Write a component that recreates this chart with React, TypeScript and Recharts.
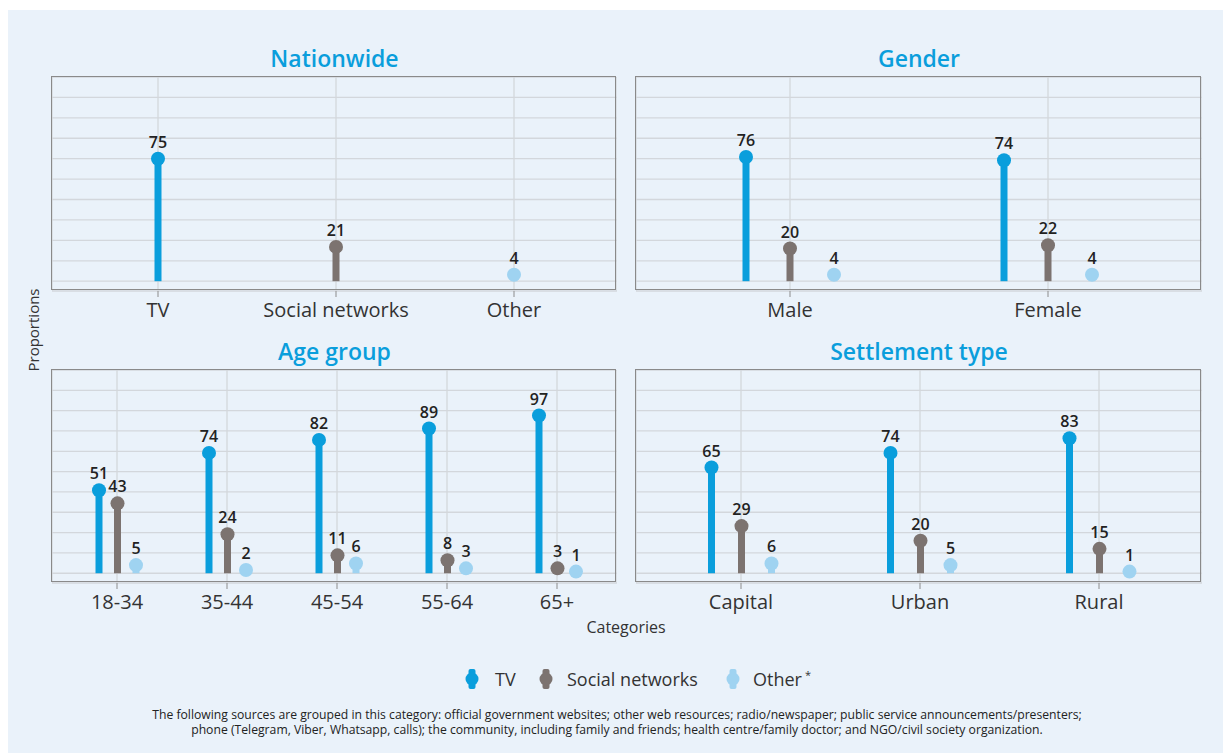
import React from 'react';
import { BarChart, Bar, XAxis, YAxis, CartesianGrid, Cell, LabelList } from 'recharts';

// chart data
const nationCategories = ['TV', 'Social networks', 'Other'];
const nationValues = [75, 21, 4];

const genderCategories = ['Male', 'Female'];
const genderTV = [76, 74];
const genderSocial = [20, 22];
const genderOther = [4, 4];

const ageCategories = ['18-34', '35-44', '45-54', '55-64', '65+'];
const ageTV = [51, 74, 82, 89, 97];
const ageSocial = [43, 24, 11, 8, 3];
const ageOther = [5, 2, 6, 3, 1];

const settlementCategories = ['Capital', 'Urban', 'Rural'];
const settlementTV = [65, 74, 83];
const settlementSocial = [29, 20, 15];
const settlementOther = [6, 5, 1];

const yTicks = [0, 12.5, 25, 37.5, 50, 62.5, 75, 87.5, 100, 112.5, 125];

const TV_COLOR = '#0a9edc';
const SOCIAL_COLOR = '#7c7370';
const OTHER_COLOR = '#9fd3f1';
const FONT = '"Open Sans", "Noto Sans", sans-serif';

const nationData = nationCategories.map((name, i) => ({ name, value: nationValues[i] }));
const nationColors = [TV_COLOR, SOCIAL_COLOR, OTHER_COLOR];

const toRows = (cats: string[], tv: number[], social: number[], other: number[]) =>
    cats.map((name, i) => ({ name, tv: tv[i], social: social[i], other: other[i] }));

const genderData = toRows(genderCategories, genderTV, genderSocial, genderOther);
const ageData = toRows(ageCategories, ageTV, ageSocial, ageOther);
const settlementData = toRows(settlementCategories, settlementTV, settlementSocial, settlementOther);

// lollipop: thin stem + round head
const Lollipop = (props: any) => {
    const { x, y, width, height, fill } = props;
    const cx = x + width / 2;
    return (
        <g>
            <rect x={cx - 3.5} y={y} width={7} height={Math.max(height, 0)} fill={fill} />
            <circle cx={cx} cy={y} r={7} fill={fill} />
        </g>
    );
};

const labelStyle = { fontSize: 16, fontWeight: 600, fill: '#222', fontFamily: FONT };

interface PanelProps {
    title: string;
    left: number;
    top: number;
    width: number;
    height: number;
    data: any[];
    padL: number;
    padR: number;
    barGap: number;
    single?: boolean;
}

const Panel: React.FC<PanelProps> = ({ title, left, top, width, height, data, padL, padR, barGap, single }) => (
    <>
        <div
            style={{
                position: 'absolute', left, top: top - 34, width, height: 30, lineHeight: '30px',
                textAlign: 'center', color: TV_COLOR, fontWeight: 600, fontSize: 23,
            }}
        >
            {title}
        </div>
        <div style={{ position: 'absolute', left, top }}>
            <BarChart
                width={width}
                height={height + 40}
                data={data}
                margin={{ top: 0, right: 0, bottom: 0, left: 0 }}
                barGap={barGap}
                barSize={8}
            >
                <CartesianGrid stroke="#d3d7dc" strokeWidth={1.3} />
                <XAxis
                    dataKey="name"
                    height={40}
                    interval={0}
                    padding={{ left: padL, right: padR }}
                    axisLine={false}
                    tickLine={{ stroke: '#8c8c8c' }}
                    tickSize={6}
                    tickMargin={6}
                    tick={{ fontSize: 20, fill: '#333', fontFamily: FONT }}
                />
                <YAxis hide domain={[-6, 125]} ticks={yTicks} interval={0} allowDataOverflow />
                {single ? (
                    <Bar dataKey="value" shape={<Lollipop />} isAnimationActive={false}>
                        {data.map((_, i) => (
                            <Cell key={`c-${i}`} fill={nationColors[i]} />
                        ))}
                        <LabelList dataKey="value" position="top" offset={11} style={labelStyle} />
                    </Bar>
                ) : (
                    [
                        { key: 'tv', color: TV_COLOR },
                        { key: 'social', color: SOCIAL_COLOR },
                        { key: 'other', color: OTHER_COLOR },
                    ].map((s) => (
                        <Bar key={s.key} dataKey={s.key} fill={s.color} shape={<Lollipop />} isAnimationActive={false}>
                            <LabelList dataKey={s.key} position="top" offset={11} style={labelStyle} />
                        </Bar>
                    ))
                )}
            </BarChart>
        </div>
        <div
            style={{
                position: 'absolute', left: left - 1, top: top - 1, width: width, height: height,
                border: '1.5px solid #8a8a8a', pointerEvents: 'none', boxSizing: 'border-box',
            }}
        />
    </>
);

const LegendIcon = ({ color, x }: { color: string; x: number }) => (
    <svg width={14} height={26} style={{ position: 'absolute', left: x - 7, top: 666 }}>
        <rect x={3.5} y={3} width={7} height={20} rx={2} fill={color} />
        <circle cx={7} cy={13} r={6.5} fill={color} />
    </svg>
);

const legendText = (x: number): React.CSSProperties => ({
    position: 'absolute', left: x, top: 666, height: 26, lineHeight: '26px', fontSize: 18, color: '#333', whiteSpace: 'nowrap',
});

const App: React.FC = () => {
    return (
        <div
            style={{
                position: 'absolute', left: 0, top: 0, width: 1223, height: 753,
                background: '#fff', fontFamily: FONT, color: '#333',
            }}
        >
            <div style={{ position: 'absolute', left: 8, top: 10, width: 1215, height: 743, background: '#eaf2fa' }} />

            <Panel title="Nationwide" left={52} top={77} width={565} height={214} data={nationData} padL={17} padR={14} barGap={0} single />
            <Panel title="Gender" left={636} top={77} width={566} height={214} data={genderData} padL={25} padR={25} barGap={36} />
            <Panel title="Age group" left={52} top={370} width={565} height={213} data={ageData} padL={10} padR={5} barGap={10.5} />
            <Panel title="Settlement type" left={636} top={370} width={566} height={213} data={settlementData} padL={15.5} padR={13.5} barGap={22} />

            <div
                style={{
                    position: 'absolute', left: 33, top: 330, transform: 'translate(-50%, -50%) rotate(-90deg)',
                    fontSize: 15, color: '#333', whiteSpace: 'nowrap',
                }}
            >
                Proportions
            </div>
            <div
                style={{
                    position: 'absolute', left: 626, top: 627, transform: 'translate(-50%, -50%)',
                    fontSize: 16, color: '#333', whiteSpace: 'nowrap',
                }}
            >
                Categories
            </div>

            <LegendIcon color={TV_COLOR} x={472} />
            <div style={legendText(495)}>TV</div>
            <LegendIcon color={SOCIAL_COLOR} x={546} />
            <div style={legendText(567)}>Social networks</div>
            <LegendIcon color={OTHER_COLOR} x={733} />
            <div style={legendText(753)}>
                Other<span style={{ fontSize: 11, position: 'relative', top: -7, marginLeft: 3 }}>*</span>
            </div>

            <div
                style={{
                    position: 'absolute', left: 0, width: 1234, top: 707, textAlign: 'center',
                    fontSize: 12.2, color: '#222', lineHeight: '15px', whiteSpace: 'nowrap',
                }}
            >
                <div>The following sources are grouped in this category: official government websites; other web resources; radio/newspaper; public service announcements/presenters;</div>
                <div>phone (Telegram, Viber, Whatsapp, calls); the community, including family and friends; health centre/family doctor; and NGO/civil society organization.</div>
            </div>
        </div>
    );
};

export default App;
